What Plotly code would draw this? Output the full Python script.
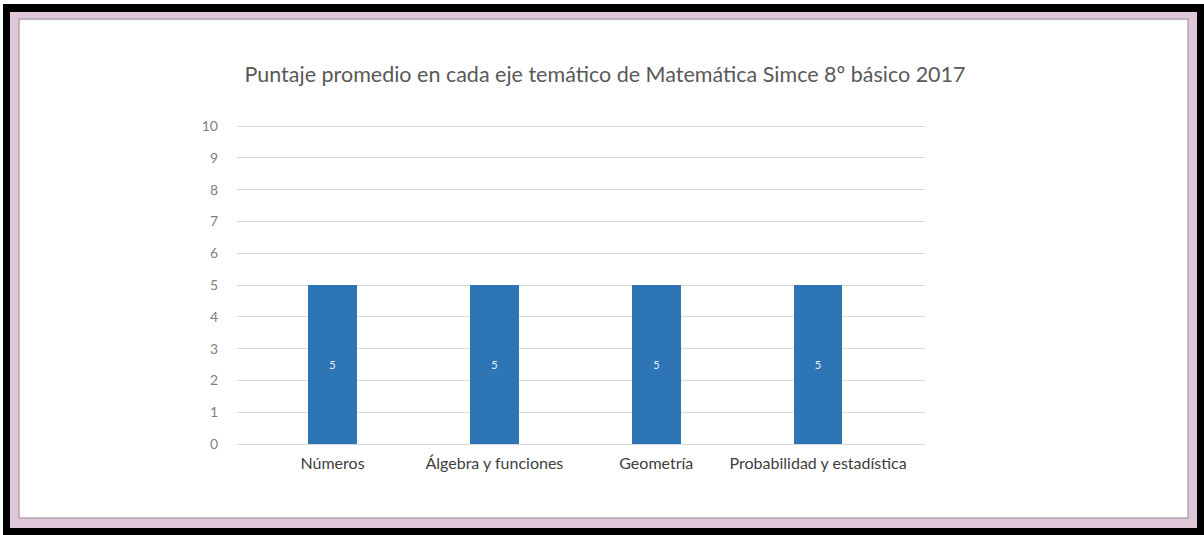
import plotly.graph_objects as go

# Average score per thematic axis
categorias = ["Números", "Álgebra y funciones", "Geometría", "Probabilidad y estadística"]
puntajes = [5, 5, 5, 5]
y_ticks = list(range(0, 11))

W, H = 1204, 535
Y_MAX = 10.1                     # a little above 10 so the top gridline is drawn
L, R, B = 237, 925, 444          # plot area in pixels
T = round(B - (B - 126) * Y_MAX / 10)


def px(x):
    return (x - L) / (R - L)


def py(y):
    return (B - y) / (B - T)


fig = go.Figure(
    go.Bar(
        x=list(range(len(categorias))),
        y=puntajes,
        width=0.30,
        marker=dict(color="#2e75b6", line=dict(width=0)),
        text=[str(v) for v in puntajes],
        textposition="inside",
        insidetextanchor="middle",
        textfont=dict(color="#e8eef8", size=11, family="Lato"),
        hoverinfo="skip",
    )
)

shapes = [
    # outer black frame
    dict(type="rect", xref="paper", yref="paper", x0=px(3), x1=px(W), y0=py(4), y1=py(H),
         fillcolor="#000000", line=dict(width=0), layer="below"),
    # mauve mat
    dict(type="rect", xref="paper", yref="paper", x0=px(10), x1=px(1197), y0=py(12), y1=py(528),
         fillcolor="#dfc9d9", line=dict(width=0), layer="below"),
    # white card with thin grey edge
    dict(type="rect", xref="paper", yref="paper", x0=px(19), x1=px(1188), y0=py(19), y1=py(518),
         fillcolor="#ffffff", line=dict(color="#b3a3b1", width=1.5), layer="below"),
]

fig.update_layout(
    width=W,
    height=H,
    margin=dict(l=L, r=W - R, t=T, b=H - B, pad=0),
    paper_bgcolor="#ffffff",
    plot_bgcolor="rgba(0,0,0,0)",
    showlegend=False,
    shapes=shapes,
    title=dict(
        text="Puntaje promedio en cada eje temático de Matemática Simce 8º básico 2017",
        x=605 / W, xanchor="center", y=1 - 74 / H, yanchor="middle",
        font=dict(family="Lato", size=21.5, color="#595959"),
    ),
    xaxis=dict(
        range=[-0.59, 3.66],
        tickmode="array",
        tickvals=list(range(len(categorias))),
        ticktext=categorias,
        showgrid=False,
        zeroline=False,
        showline=False,
        ticks="",
        ticklabelstandoff=8,
        tickfont=dict(family="Lato", size=16, color="#404040"),
        fixedrange=True,
    ),
    yaxis=dict(
        range=[0, Y_MAX],
        tickvals=y_ticks,
        showgrid=True,
        gridcolor="#d9d9d9",
        gridwidth=1,
        zeroline=True,
        zerolinecolor="#d9d9d9",
        zerolinewidth=1,
        showline=False,
        ticks="",
        ticklabelstandoff=18,
        tickfont=dict(family="Lato", size=14, color="#7f7f7f"),
        fixedrange=True,
    ),
    bargap=0,
)

fig.write_html("out.html", config={"displayModeBar": False})
